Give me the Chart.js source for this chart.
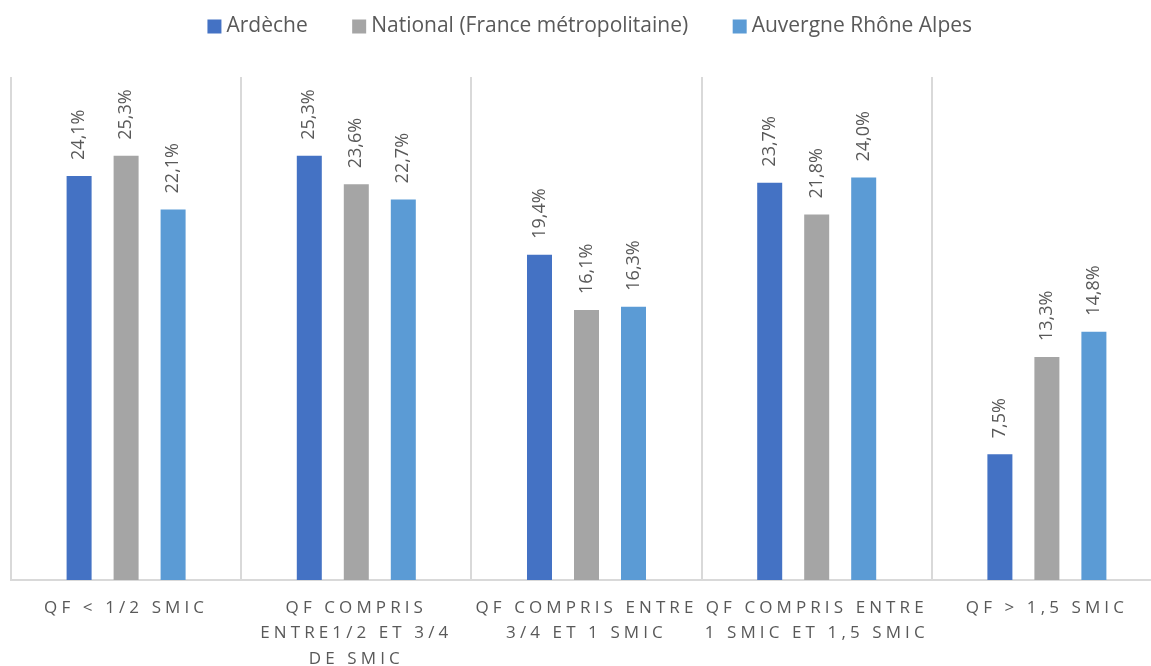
<!DOCTYPE html>
<html>
<head>
<meta charset="utf-8">
<script src="https://cdn.jsdelivr.net/npm/chart.js@4.4.1/dist/chart.umd.min.js"></script>
<style>
  html, body { margin: 0; padding: 0; background: #fff; overflow: hidden; }
  #wrap { width: 1183px; height: 666px; position: relative; }
</style>
</head>
<body>
<div id="wrap"><canvas id="chart"></canvas></div>
<script>
const categories = [
    ['QF < 1/2 SMIC'],
    ['QF COMPRIS', 'ENTRE1/2 ET 3/4', 'DE SMIC'],
    ['QF COMPRIS ENTRE', '3/4 ET 1 SMIC'],
    ['QF COMPRIS ENTRE', '1 SMIC ET 1,5 SMIC'],
    ['QF > 1,5 SMIC']
];
const ardeche = [24.1, 25.3, 19.4, 23.7, 7.5];
const national = [25.3, 23.6, 16.1, 21.8, 13.3];
const auvergne = [22.1, 22.7, 16.3, 24.0, 14.8];
const seriesNames = ['Ardèche', 'National (France métropolitaine)', 'Auvergne Rhône Alpes'];
const seriesColors = ['#4472C4', '#A5A5A5', '#5B9BD5'];

const textColor = '#595959';
const gridColor = '#d9d9d9';

Chart.defaults.font.family = '"Open Sans", sans-serif';
Chart.defaults.color = textColor;

// value labels, rotated, above each bar
const barLabels = {
    id: 'barLabels',
    afterDatasetsDraw(chart) {
        const ctx = chart.ctx;
        ctx.save();
        ctx.font = '18px "Open Sans"';
        ctx.fillStyle = textColor;
        ctx.textAlign = 'left';
        ctx.textBaseline = 'middle';
        chart.data.datasets.forEach((ds, i) => {
            chart.getDatasetMeta(i).data.forEach((bar, j) => {
                ctx.save();
                ctx.translate(bar.x, bar.y - 16);
                ctx.rotate(-Math.PI / 2);
                ctx.fillText(ds.data[j].toFixed(1).replace('.', ',') + '%', 0, 0);
                ctx.restore();
            });
        });
        ctx.restore();
    }
};

// extra room under the legend, nudge it a bit, spaced capitals on the category axis
const tweaks = {
    id: 'tweaks',
    beforeLayout(chart) {
        const lg = chart.legend;
        if (lg && !lg._gap) {
            const fit = lg.fit;
            lg.fit = function () { fit.call(this); this.height += 31.5; };
            const draw = lg.draw;
            lg.draw = function () {
                this.ctx.save();
                this.ctx.translate(6, 1.5);
                draw.call(this);
                this.ctx.restore();
            };
            lg._gap = true;
        }
    },
    beforeDraw(chart) {
        const sx = chart.scales.x;
        if (sx && !sx._spaced) {
            const draw = sx.drawLabels;
            sx.drawLabels = function (area) {
                this.ctx.save();
                this.ctx.letterSpacing = '4.1px';
                draw.call(this, area);
                this.ctx.restore();
            };
            sx._spaced = true;
        }
    }
};

const datasets = [ardeche, national, auvergne].map((values, i) => ({
    label: seriesNames[i],
    data: values,
    backgroundColor: seriesColors[i],
    borderWidth: 0,
    pointStyle: 'rect',
    categoryPercentage: 0.6125,
    barPercentage: 0.532
}));

new Chart(document.getElementById('chart'), {
    type: 'bar',
    data: { labels: categories, datasets: datasets },
    options: {
        responsive: true,
        maintainAspectRatio: false,
        animation: false,
        layout: { padding: { top: -35.5, left: 11, right: 21, bottom: -20.5 } },
        plugins: {
            legend: {
                position: 'top',
                labels: {
                    usePointStyle: true,
                    boxWidth: 3,
                    boxHeight: 14,
                    padding: 50,
                    color: textColor,
                    font: { size: 21 }
                }
            },
            tooltip: { enabled: false }
        },
        scales: {
            x: {
                grid: { color: gridColor, lineWidth: 2, drawTicks: false, offset: true },
                border: { color: gridColor, width: 2 },
                ticks: {
                    color: textColor,
                    font: { size: 17, lineHeight: 1.5 },
                    padding: 15,
                    maxRotation: 0,
                    minRotation: 0,
                    autoSkip: false
                }
            },
            y: {
                display: false,
                min: 0,
                max: 30
            }
        }
    },
    plugins: [barLabels, tweaks]
});
</script>
</body>
</html>
